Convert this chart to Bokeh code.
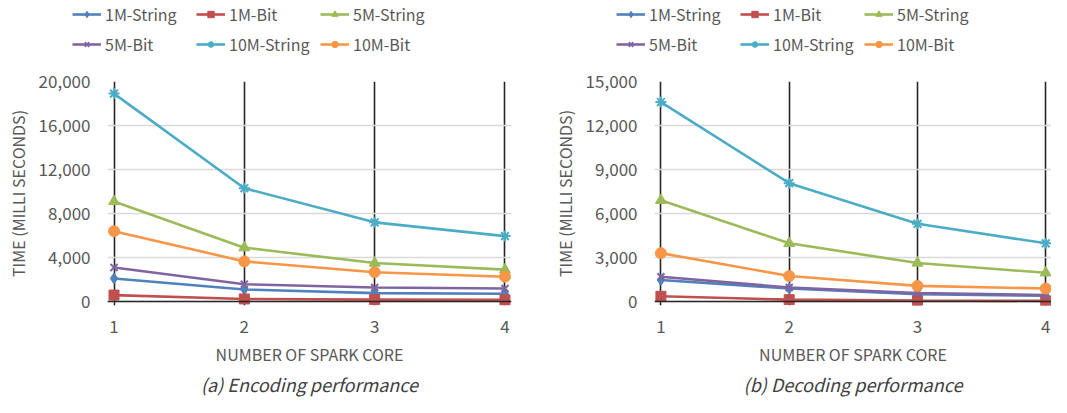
from bokeh.plotting import figure
from bokeh.layouts import row, column
from bokeh.models import Range1d, FixedTicker, NumeralTickFormatter, Legend, LegendItem, Span, Title
from bokeh.embed import file_html
from bokeh.resources import INLINE

cores = [1, 2, 3, 4]
series_names = ["1M-String", "1M-Bit", "5M-String", "5M-Bit", "10M-String", "10M-Bit"]

enc_1m_string = [2100, 1100, 770, 710]
enc_1m_bit = [590, 240, 180, 150]
enc_5m_string = [9100, 4900, 3500, 2900]
enc_5m_bit = [3100, 1580, 1280, 1190]
enc_10m_string = [18900, 10300, 7200, 5950]
enc_10m_bit = [6400, 3650, 2670, 2260]

dec_1m_string = [1470, 890, 510, 400]
dec_1m_bit = [360, 130, 70, 45]
dec_5m_string = [6900, 3970, 2630, 1960]
dec_5m_bit = [1690, 960, 580, 450]
dec_10m_string = [13600, 8070, 5300, 3970]
dec_10m_bit = [3300, 1740, 1070, 890]

enc_ticks = [0, 4000, 8000, 12000, 16000, 20000]
dec_ticks = [0, 3000, 6000, 9000, 12000, 15000]

colors = ["#4F81BD", "#C0504D", "#9BBB59", "#8064A2", "#4BACC6", "#F79646"]
markers = ["diamond", "square", "triangle", "x", "asterisk", "circle"]
msizes = [11, 10, 11, 10, 11, 11]

FONT = "Noto Sans CJK JP"
TXT = "#595959"
FRAME_H = 228
LEG_H = 73
TOP = 8
HEIGHT = 397 - LEG_H
TOTAL_W = 1051

enc_data = [enc_1m_string, enc_1m_bit, enc_5m_string, enc_5m_bit, enc_10m_string, enc_10m_bit]
dec_data = [dec_1m_string, dec_1m_bit, dec_5m_string, dec_5m_bit, dec_10m_string, dec_10m_bit]


def style(p):
    p.outline_line_color = None
    p.background_fill_color = "white"
    p.border_fill_color = "white"


def add_series(p, data):
    items = []
    for name, ys, c, m, s in zip(series_names, data, colors, markers, msizes):
        lw = 2 if m in ("x", "asterisk") else 1
        r1 = p.line(cores, ys, line_color=c, line_width=2.6)
        r2 = p.scatter(cores, ys, marker=m, size=s, fill_color=c, line_color=c, line_width=lw)
        items.append(LegendItem(label=name, renderers=[r1, r2]))
    return items


def make_legend_fig():
    # legend-only strip: the series lie outside its (negative) view range
    q = figure(output_backend="svg", toolbar_location=None, width=TOTAL_W, height=LEG_H,
               min_border_left=0, min_border_right=0, min_border_top=0, min_border_bottom=0,
               x_axis_location=None, y_axis_location=None,
               x_range=Range1d(-20, -10), y_range=Range1d(-20, -10))
    style(q)
    q.grid.visible = False
    for data, leg_x in ((enc_data, 72), (dec_data, 616)):
        items = add_series(q, data)
        for k in range(2):
            legend = Legend(items=items[3 * k:3 * k + 3], orientation="horizontal",
                            location=(leg_x, LEG_H - 26 - 30 * k), margin=0, padding=0,
                            glyph_width=29, glyph_height=16, label_height=16,
                            label_standoff=4, label_width=91, spacing=0,
                            label_text_font=FONT, label_text_font_size="16px",
                            label_text_color=TXT, border_line_color=None,
                            background_fill_alpha=0)
            q.add_layout(legend, "center")
    return q


def make_panel(data, ticks, ymax, caption, cap_offset, width, border_left, border_right, xend):
    bottom = -(4.0 / 224.0) * ymax
    p = figure(output_backend="svg", toolbar_location=None,
               width=width, height=HEIGHT,
               min_border_left=border_left, min_border_right=border_right,
               min_border_top=TOP, min_border_bottom=HEIGHT - TOP - FRAME_H,
               x_range=Range1d(0.95, xend), y_range=Range1d(bottom, ymax))
    style(p)
    add_series(p, data)

    p.xgrid.ticker = FixedTicker(ticks=cores)
    p.xgrid.grid_line_color = "#262626"
    p.xgrid.grid_line_width = 1.6
    p.ygrid.ticker = FixedTicker(ticks=ticks)
    p.ygrid.grid_line_color = "#d9d9d9"
    p.ygrid.grid_line_width = 1.6

    p.add_layout(Span(location=0, dimension="width", line_color="#262626", line_width=1.6))

    p.xaxis.ticker = FixedTicker(ticks=cores)
    p.xaxis.axis_line_color = None
    p.xaxis.major_tick_line_color = None
    p.xaxis.minor_tick_line_color = None
    p.xaxis.major_label_text_font = FONT
    p.xaxis.major_label_text_font_size = "17px"
    p.xaxis.major_label_text_color = TXT
    p.xaxis.major_label_standoff = 8
    p.xaxis.axis_label = "NUMBER OF SPARK CORE"
    p.xaxis.axis_label_text_font = FONT
    p.xaxis.axis_label_text_font_size = "16px"
    p.xaxis.axis_label_text_font_style = "normal"
    p.xaxis.axis_label_text_color = TXT
    p.xaxis.axis_label_standoff = 6

    p.yaxis.ticker = FixedTicker(ticks=ticks)
    p.yaxis.formatter = NumeralTickFormatter(format="0,0")
    p.yaxis.axis_line_color = None
    p.yaxis.major_tick_line_color = None
    p.yaxis.minor_tick_line_color = None
    p.yaxis.major_label_text_font = FONT
    p.yaxis.major_label_text_font_size = "17px"
    p.yaxis.major_label_text_color = TXT
    p.yaxis.major_label_standoff = 11
    p.yaxis.axis_label = "TIME (MILLI SECONDS)"
    p.yaxis.axis_label_text_font = FONT
    p.yaxis.axis_label_text_font_size = "16px"
    p.yaxis.axis_label_text_font_style = "normal"
    p.yaxis.axis_label_text_color = TXT
    p.yaxis.axis_label_standoff = 6

    cap = Title(text=caption, align="center", offset=cap_offset, standoff=1,
                text_font=FONT, text_font_size="18px", text_font_style="italic",
                text_color="#404040")
    p.add_layout(cap, "below")
    return p


p1 = make_panel(enc_data, enc_ticks, 20000, "(a) Encoding performance", -20, 548, 107, 37, 4.05)
p2 = make_panel(dec_data, dec_ticks, 15000, "(b) Decoding performance", -20, 503, 106, 0, 4.045)
leg = make_legend_fig()

layout = column(leg, row(p1, p2))
open("out.html", "w").write(file_html(layout, INLINE))
